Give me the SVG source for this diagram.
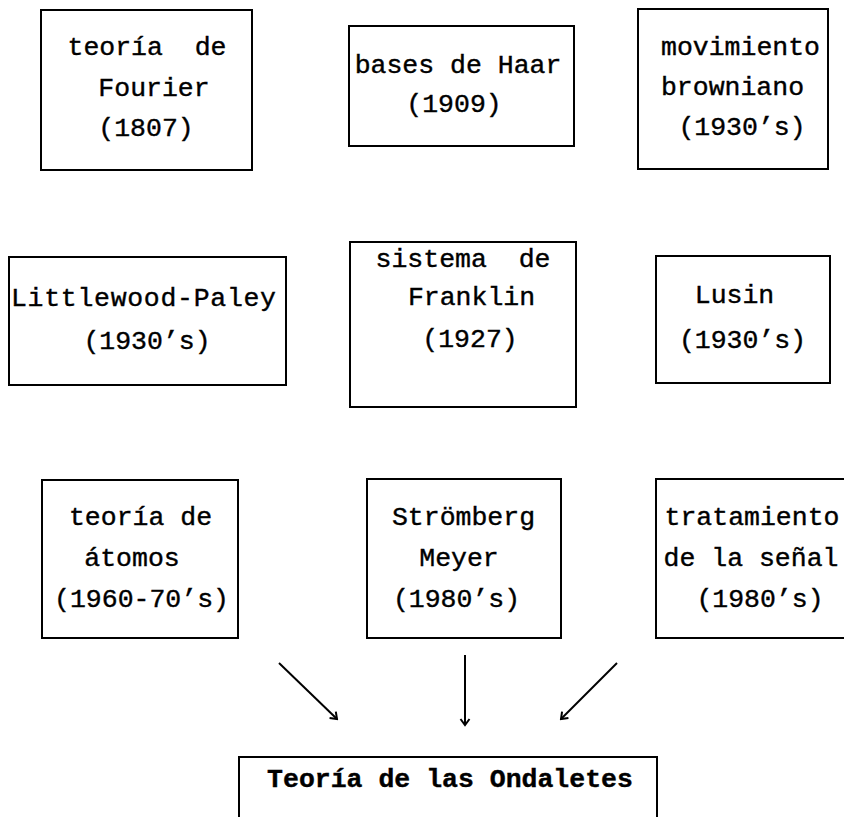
<svg xmlns="http://www.w3.org/2000/svg" width="844" height="817" viewBox="0 0 844 817">
<style>
.box{fill:none;stroke:#000;stroke-width:2}
.t{font-family:"Liberation Mono","DejaVu Sans Mono",monospace;font-size:26.5px;fill:#000;stroke:#000;stroke-width:0.4;text-anchor:middle;white-space:pre}
.b{font-weight:bold}
.arr{stroke:#000;stroke-width:2;fill:none;marker-end:url(#ah)}
</style>
<defs>
<marker id="ah" markerWidth="12" markerHeight="12" refX="10" refY="6" orient="auto" markerUnits="userSpaceOnUse">
<path d="M4,1.5 L10,6 L4,10.5" fill="none" stroke="#000" stroke-width="2"/>
</marker>
</defs>
<g id="fourier">
<rect class="box" x="41" y="10" width="211" height="160"/>
<text class="t" xml:space="preserve" x="147" y="55">teoría  de</text>
<text class="t" x="154" y="96">Fourier</text>
<text class="t" x="146" y="136">(1807)</text>
</g>
<g id="haar">
<rect class="box" x="349" y="26" width="225" height="120"/>
<text class="t" x="458" y="73">bases de Haar</text>
<text class="t" x="454" y="112">(1909)</text>
</g>
<g id="browniano">
<rect class="box" x="638" y="9" width="190" height="160"/>
<text class="t" x="740.5" y="55">movimiento</text>
<text class="t" x="732.5" y="95">browniano</text>
<text class="t" x="742" y="135">(1930’s)</text>
</g>
<g id="littlewood">
<rect class="box" x="9" y="257" width="277" height="128"/>
<text class="t" x="143.5" y="306" textLength="265" lengthAdjust="spacing">Littlewood-Paley</text>
<text class="t" x="147" y="349">(1930’s)</text>
</g>
<g id="franklin">
<rect class="box" x="350" y="242" width="226" height="165"/>
<text class="t" xml:space="preserve" x="463" y="267">sistema  de</text>
<text class="t" x="471.5" y="305">Franklin</text>
<text class="t" x="470" y="347">(1927)</text>
</g>
<g id="lusin">
<rect class="box" x="656" y="256" width="174" height="127"/>
<text class="t" x="734.5" y="303">Lusin</text>
<text class="t" x="742.5" y="348">(1930’s)</text>
</g>
<g id="atomos">
<rect class="box" x="42" y="480" width="196" height="158"/>
<text class="t" x="140.5" y="525">teoría de</text>
<text class="t" x="132" y="566">átomos</text>
<text class="t" x="141.5" y="607">(1960-70’s)</text>
</g>
<g id="stromberg">
<rect class="box" x="367" y="479" width="194" height="159"/>
<text class="t" x="463.5" y="525">Strömberg</text>
<text class="t" x="459" y="566">Meyer</text>
<text class="t" x="456.5" y="607">(1980’s)</text>
</g>
<g id="senal">
<rect class="box" x="656" y="479" width="200" height="159"/>
<text class="t" x="752" y="525">tratamiento</text>
<text class="t" x="751" y="566">de la señal</text>
<text class="t" x="760" y="607">(1980’s)</text>
</g>
<g id="ondaletes">
<rect class="box" x="239" y="757" width="418" height="80"/>
<text class="t b" x="450" y="787">Teoría de las Ondaletes</text>
</g>
<g id="connectors">
<line class="arr" x1="279" y1="663" x2="337" y2="719"/>
<line class="arr" x1="465" y1="655" x2="465" y2="725"/>
<line class="arr" x1="617" y1="663" x2="561" y2="719"/>
</g>
</svg>
